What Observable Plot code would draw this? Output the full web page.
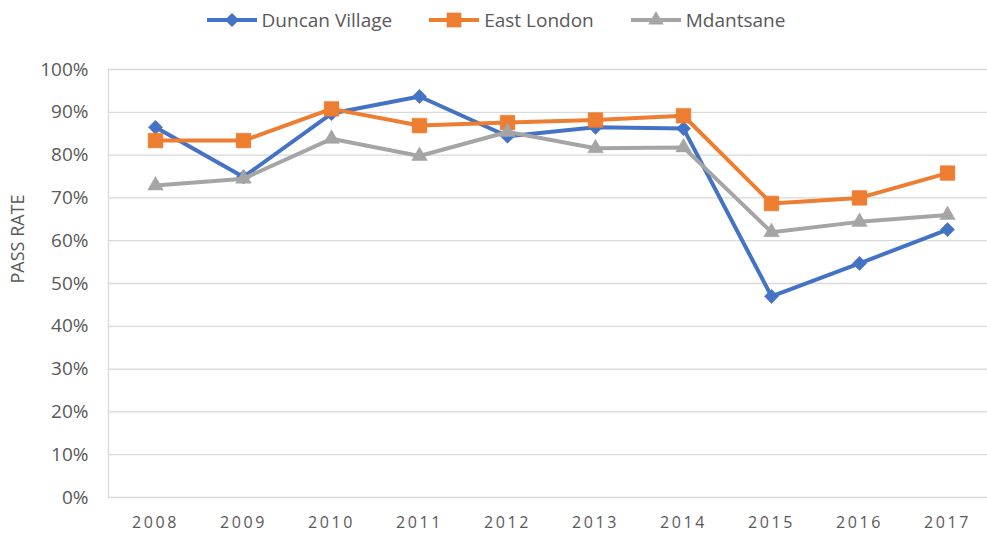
<!DOCTYPE html>
<html>
<head>
<meta charset="utf-8">
<script src="https://cdn.jsdelivr.net/npm/d3@7"></script>
<script src="https://cdn.jsdelivr.net/npm/@observablehq/plot@0.6"></script>
<style>
  html, body { margin: 0; padding: 0; background: #fff; }
  body { width: 987px; height: 534px; overflow: hidden; font-family: "Open Sans", sans-serif; }
  #legend { height: 40px; display: flex; justify-content: center; align-items: center; gap: 36px; color: #595959; font-size: 19px; padding-left: 4px; box-sizing: border-box; }
  #legend .item { display: flex; align-items: center; gap: 4px; }
  #chart svg { display: block; }
  g[aria-label="x-axis tick label"] text { letter-spacing: 2.6px; }
</style>
</head>
<body>
<div id="legend"></div>
<div id="chart"></div>
<script>
const years = ["2008","2009","2010","2011","2012","2013","2014","2015","2016","2017"];
const duncanVillage = [86.5, 74.9, 89.7, 93.7, 84.4, 86.5, 86.2, 47.0, 54.7, 62.6];
const eastLondon    = [83.4, 83.4, 90.8, 86.9, 87.6, 88.2, 89.2, 68.7, 70.0, 75.8];
const mdantsane     = [72.9, 74.5, 83.8, 79.8, 85.4, 81.6, 81.8, 62.0, 64.4, 66.0];
const seriesNames = ["Duncan Village", "East London", "Mdantsane"];
const seriesColors = ["#4472C4", "#ED7D31", "#A5A5A5"];
const yTicks = [0,10,20,30,40,50,60,70,80,90,100];
const yLabel = "PASS RATE";

const seriesValues = [duncanVillage, eastLondon, mdantsane];
const symbols = ["diamond2", "square", "triangle"];
const radii = [6.4, 8.3, 5.8];

const rows = (vals) => years.map((y, i) => ({year: y, value: vals[i]}));

const marks = [
  Plot.gridY(yTicks, {stroke: "#D9D9D9", strokeOpacity: 1, strokeWidth: 1.3}),
  Plot.axisY(yTicks, {
    tickSize: 0, tickPadding: 20, tickFormat: d => d + "%",
    fontSize: 19, fill: "#595959", label: null
  }),
  Plot.text([yLabel], {frameAnchor: "left", rotate: -90, dx: -90, fontSize: 18, fill: "#595959", text: d => d}),
  Plot.axisX({tickSize: 0, tickPadding: 19, fontSize: 16, fill: "#595959", label: null}),
  Plot.frame({anchor: "left", stroke: "#D9D9D9", strokeWidth: 1.3})
];
seriesValues.forEach((vals, k) => {
  const data = rows(vals);
  marks.push(Plot.line(data, {x: "year", y: "value", stroke: seriesColors[k], strokeWidth: 4, curve: "linear"}));
  marks.push(Plot.dot(data, {x: "year", y: "value", symbol: () => symbols[k], fill: seriesColors[k], stroke: seriesColors[k], strokeWidth: 0.5, r: radii[k]}));
});

const chart = Plot.plot({
  width: 987,
  height: 494,
  marginTop: 29,
  marginBottom: 37,
  marginLeft: 108,
  marginRight: 0,
  style: {fontFamily: "'Open Sans', sans-serif", fontSize: "17px", color: "#595959", background: "#fff"},
  x: {type: "point", domain: years, range: [152, 950], padding: 0},
  y: {domain: [0, 100]},
  symbol: {type: "identity"},
  marks
});
document.getElementById("chart").appendChild(chart);

// legend
const legend = document.getElementById("legend");
const symPaths = {
  "diamond2": d3.symbol(d3.symbolDiamond2, Math.PI * 6.4 * 6.4)(),
  "square": d3.symbol(d3.symbolSquare, Math.PI * 8.3 * 8.3)(),
  "triangle": d3.symbol(d3.symbolTriangle, Math.PI * 5.8 * 5.8)()
};
seriesNames.forEach((name, k) => {
  const item = document.createElement("div");
  item.className = "item";
  item.innerHTML = `<svg width="52" height="20" viewBox="-26 -10 52 20"><line x1="-25" x2="25" y1="0" y2="0" stroke="${seriesColors[k]}" stroke-width="4"/><path d="${symPaths[symbols[k]]}" fill="${seriesColors[k]}"/></svg><span>${name}</span>`;
  legend.appendChild(item);
});
</script>
</body>
</html>
